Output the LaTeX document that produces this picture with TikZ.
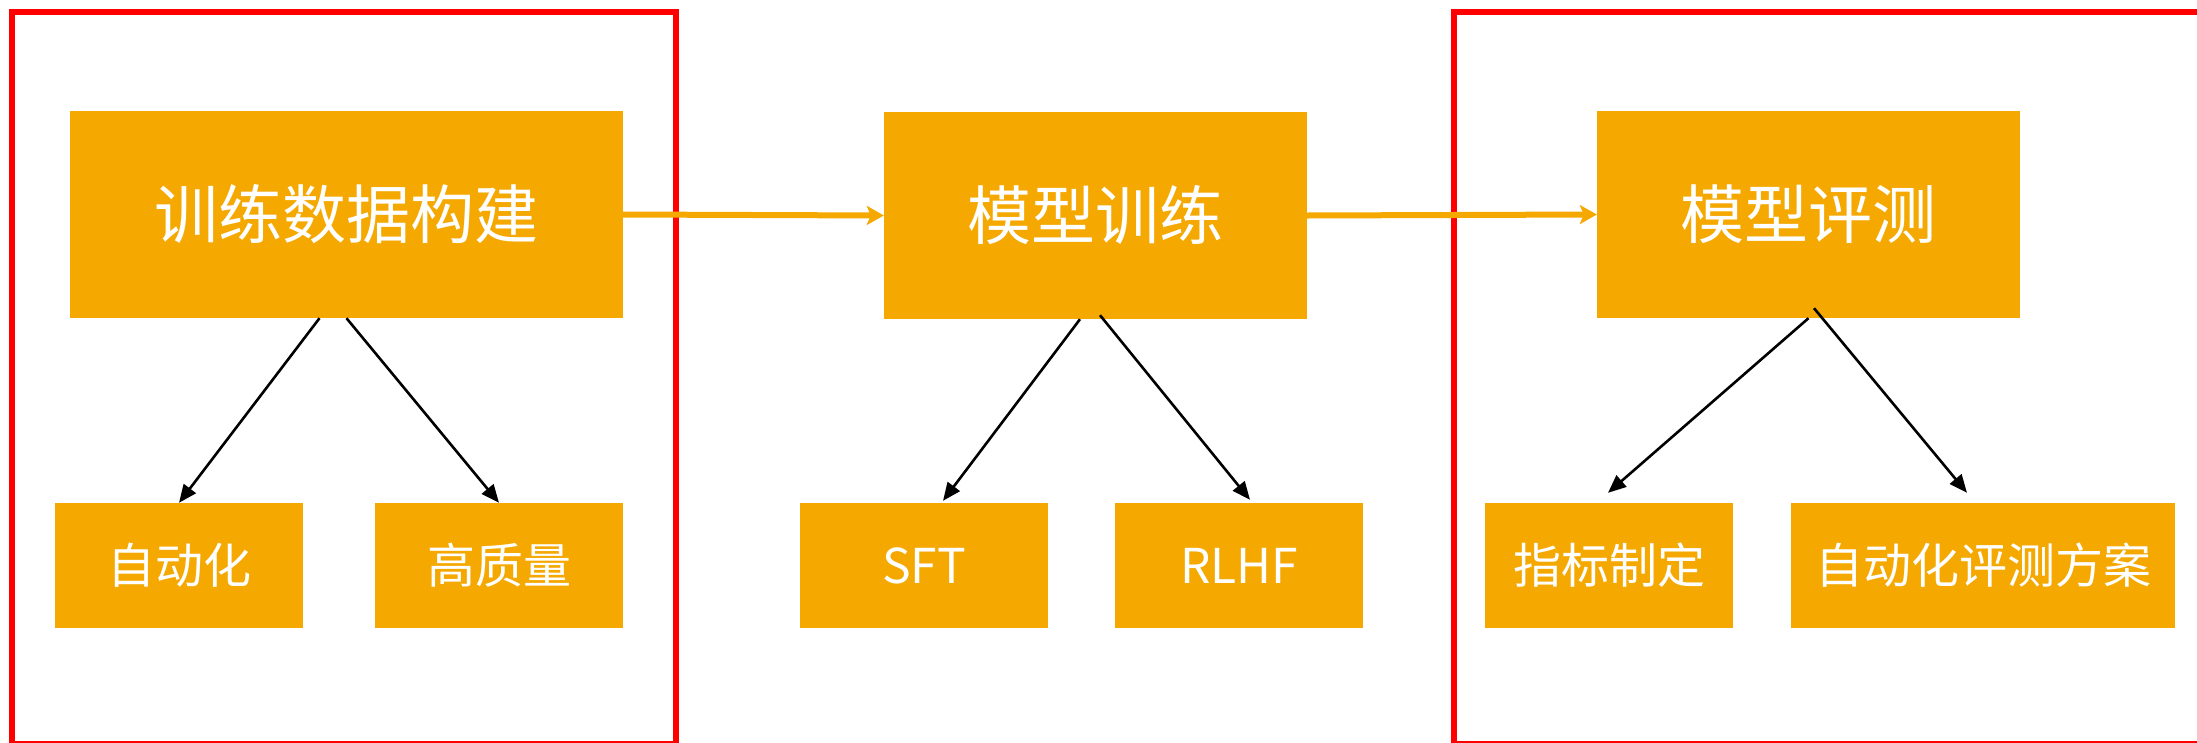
\documentclass[tikz,border=0pt]{standalone}
\usepackage{fontspec}
\setmainfont{Noto Sans CJK SC}
\usetikzlibrary{arrows.meta}
\definecolor{boxorange}{RGB}{244,168,0}
\definecolor{framered}{RGB}{255,0,0}
\tikzset{
  mainbox/.style={fill=boxorange, draw=none, text=white, minimum width=#1, minimum height=207pt, inner sep=0pt, font=\fontsize{64}{70}\selectfont},
  subbox/.style={fill=boxorange, draw=none, text=white, minimum width=#1, minimum height=125pt, inner sep=0pt, font=\fontsize{48}{54}\selectfont},
  flowarrow/.style={draw=boxorange, line width=6pt, -{Stealth[length=17pt,width=19pt,inset=4pt]}},
  childarrow/.style={draw=black, line width=2.6pt, -{Triangle[length=18pt,width=15pt]}},
  redframe/.style={draw=framered, line width=6pt}
}
\begin{document}
\begin{tikzpicture}[x=1pt,y=-1pt]
\useasboundingbox (0,0) rectangle (2197,742);
\begin{scope}
\clip (0,0) rectangle (2197,742);
\draw[redframe] (12,12) rectangle (676,744);
\draw[redframe] (1454,12) rectangle (2210,744);
\end{scope}
% main boxes
\node[mainbox=553pt] (d) at (346.5,214.5) {训练数据构建};
\node[mainbox=423pt] (t) at (1095.5,215.5) {模型训练};
\node[mainbox=423pt] (e) at (1808.5,214.5) {模型评测};
% sub boxes
\node[subbox=248pt] (a1) at (179,565.5) {自动化};
\node[subbox=248pt] (a2) at (499,565.5) {高质量};
\node[subbox=248pt] (s) at (924,565.5) {SFT};
\node[subbox=248pt] (r) at (1239,565.5) {RLHF};
\node[subbox=248pt] (m) at (1609,565.5) {指标制定};
\node[subbox=384pt] (p) at (1983,565.5) {自动化评测方案};
% flow arrows
\draw[flowarrow] (d.east) -- (t.west);
\draw[flowarrow] (t.east) -- (e.west);
% child arrows
\draw[childarrow] ([xshift=-27pt]d.south) -- (a1.north);
\draw[childarrow] ([xshift=0pt]d.south) -- (a2.north);
\draw[childarrow] ([xshift=-15.5pt]t.south) -- ([xshift=19pt,yshift=2pt]s.north);
\draw[childarrow] ([xshift=4.5pt,yshift=4pt]t.south) -- ([xshift=11pt,yshift=3pt]r.north);
\draw[childarrow] (e.south) -- ([xshift=-1pt,yshift=10pt]m.north);
\draw[childarrow] ([xshift=5.5pt,yshift=10pt]e.south) -- ([xshift=-16pt,yshift=10pt]p.north);
\end{tikzpicture}
\end{document}
